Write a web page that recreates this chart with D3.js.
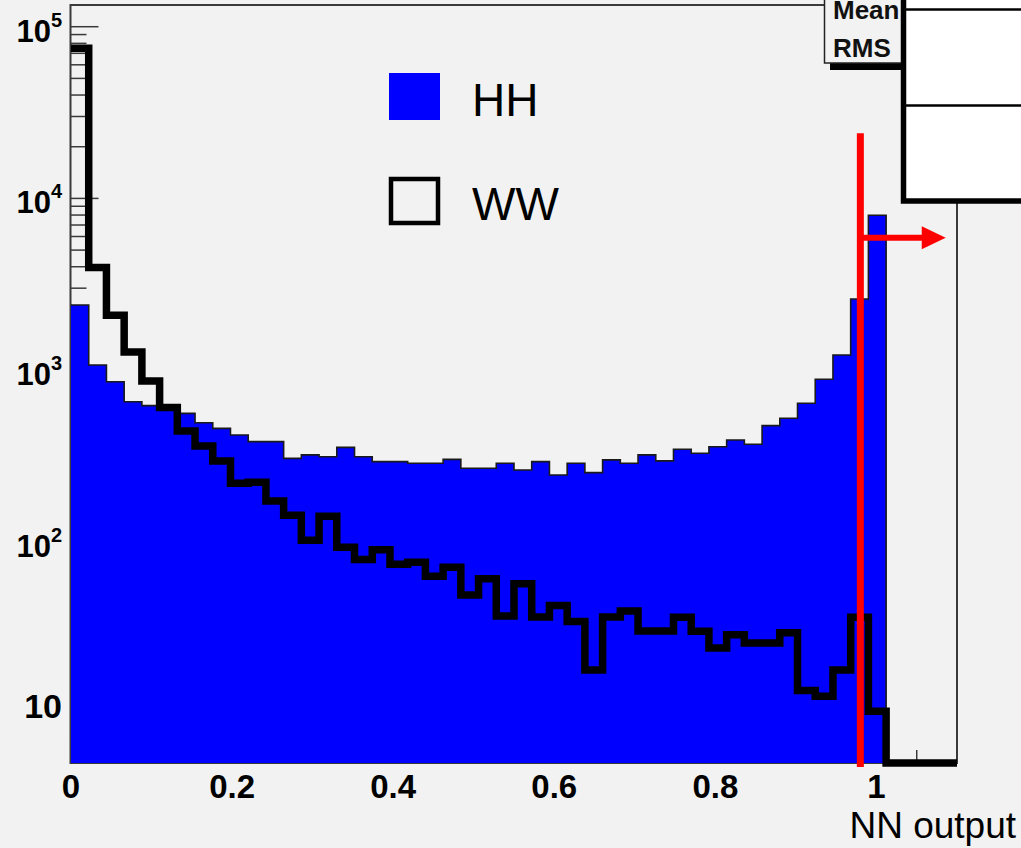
<!DOCTYPE html>
<html>
<head>
<meta charset="utf-8">
<script src="https://cdn.jsdelivr.net/npm/d3@7"></script>
<style>
  html, body { margin: 0; padding: 0; background: #f2f2f2; }
  svg { display: block; }
  text { font-family: "Liberation Sans", Arial, Helvetica, sans-serif; }
</style>
</head>
<body>
<svg id="chart" width="1021" height="848"></svg>
<script>
// ---- histogram binning: 50 bins over [0, 1.1] ----
const binWidth = 0.022;
const nBins = 50;

// HH signal counts per bin (filled)
const hhCounts = [
  2395, 1071, 855, 654, 621, 590, 560, 494, 458, 419,
  383, 383, 306, 321, 313, 355, 313, 293, 293, 287,
  287, 302, 268, 268, 287, 262, 293, 245, 287, 253,
  300, 287, 321, 296, 346, 328, 358, 392, 370, 475,
  524, 641, 884, 1224, 2595, 7980, 0, 0, 0, 0
];

// WW background counts per bin (outline)
const wwCounts = [
  75000, 3960, 2090, 1275, 865, 606, 442, 361, 296, 219,
  222, 173, 143, 102, 141, 93, 79, 90, 74, 76,
  63, 71, 49, 61, 37, 57, 36.5, 42.6, 34.4, 17.9,
  36.5, 39.6, 30.2, 30.2, 36.3, 30.1, 24.1, 28.8, 25.7, 25.7,
  29.5, 13.6, 12.6, 17.9, 36.4, 10.3, 0, 0, 0, 0
];

// axis ticks
const xTickValues = [0, 0.2, 0.4, 0.6, 0.8, 1];
const xTickLabels = ["0", "0.2", "0.4", "0.6", "0.8", "1"];
const yDecades = [1, 2, 3, 4, 5];          // 10^1 .. 10^5
const yRange = [5.149, 133800];
const xRange = [0, 1.1];

// selection cut
const cutValue = 0.98;
const cutTop = 24000;
const arrowLevel = 5900;
const arrowEnd = 1.086;

const legendItems = ["HH", "WW"];
const axisTitle = "NN output";
const statsLabels = ["Mean", "RMS"];

// ---- layout ----
const svg = d3.select("#chart");
const W = 1021, H = 848;
const frame = { left: 70.5, top: 5, right: 957, bottom: 763 };

const x = d3.scaleLinear().domain(xRange).range([71, frame.right]);
const y = d3.scaleLog().domain(yRange).range([frame.bottom, frame.top]);
const yc = v => y(Math.max(v, yRange[0]));

svg.append("rect").attr("width", W).attr("height", H).attr("fill", "#f2f2f2");

// frame
svg.append("rect")
  .attr("x", frame.left).attr("y", frame.top)
  .attr("width", frame.right - frame.left).attr("height", frame.bottom - frame.top)
  .attr("fill", "#f2f2f2").attr("stroke", "#3a3a3a").attr("stroke-width", 2);

// y ticks (major decades + minor 2..9)
const yTicks = [];
for (let d = 0; d <= 5; d++) {
  for (let m = 1; m <= 9; m++) {
    const v = m * Math.pow(10, d);
    if (v >= yRange[0] && v <= yRange[1]) yTicks.push({ v, major: m === 1 });
  }
}
svg.append("g").selectAll("line").data(yTicks).join("line")
  .attr("x1", frame.left).attr("x2", d => frame.left + (d.major ? 28 : 16))
  .attr("y1", d => y(d.v)).attr("y2", d => y(d.v))
  .attr("stroke", "#3a3a3a").attr("stroke-width", 1.5);

// x ticks every 0.05, longer every 0.2
const xTicks = d3.range(0, 22).map(i => i * 0.05);
svg.append("g").selectAll("line").data(xTicks).join("line")
  .attr("x1", d => x(d)).attr("x2", d => x(d))
  .attr("y1", frame.bottom)
  .attr("y2", (d, i) => frame.bottom - (i % 4 === 0 ? 26 : 13))
  .attr("stroke", "#3a3a3a").attr("stroke-width", 1.5);

// step-curve points
const stepPoints = counts => {
  const pts = counts.map((c, i) => [i * binWidth, c]);
  pts.push([counts.length * binWidth, counts[counts.length - 1]]);
  return pts;
};

// HH filled histogram
const hhPts = stepPoints(hhCounts);
svg.append("path")
  .datum(hhPts)
  .attr("d", d3.area().curve(d3.curveStepAfter)
    .x(d => x(d[0])).y0(frame.bottom).y1(d => yc(d[1])))
  .attr("fill", "#0000ff");
svg.append("path")
  .datum(hhPts)
  .attr("d", d3.line().curve(d3.curveStepAfter).x(d => x(d[0])).y(d => yc(d[1])))
  .attr("fill", "none").attr("stroke", "#1a1a1a").attr("stroke-width", 1.6);

// WW outline histogram
svg.append("path")
  .datum(stepPoints(wwCounts))
  .attr("d", d3.line().curve(d3.curveStepAfter).x(d => x(d[0])).y(d => yc(d[1])))
  .attr("fill", "none").attr("stroke", "#000").attr("stroke-width", 7.5)
  .attr("stroke-linejoin", "miter");

// cut line and arrow
svg.append("line")
  .attr("x1", x(cutValue)).attr("x2", x(cutValue))
  .attr("y1", y(cutTop)).attr("y2", frame.bottom + 4)
  .attr("stroke", "#ff0000").attr("stroke-width", 7);
const ay = y(arrowLevel), ax1 = x(arrowEnd);
svg.append("line")
  .attr("x1", x(cutValue)).attr("x2", ax1 - 22)
  .attr("y1", ay).attr("y2", ay)
  .attr("stroke", "#ff0000").attr("stroke-width", 6);
svg.append("path")
  .attr("d", `M${ax1 - 24},${ay - 11.5} L${ax1},${ay} L${ax1 - 24},${ay + 11.5} Z`)
  .attr("fill", "#ff0000");

// legend
const lg = svg.append("g");
lg.append("rect").attr("x", 389).attr("y", 73).attr("width", 51).attr("height", 47).attr("fill", "#0000ff");
lg.append("rect").attr("x", 391).attr("y", 179).attr("width", 47).attr("height", 44)
  .attr("fill", "none").attr("stroke", "#000").attr("stroke-width", 4.5);
lg.selectAll("text").data(legendItems).join("text")
  .attr("x", 472).attr("y", (d, i) => 116 + i * 104)
  .attr("font-size", 46).attr("fill", "#000").text(d => d);

// statistics box (partly outside the canvas)
svg.append("rect").attr("x", 830).attr("y", 63).attr("width", 75).attr("height", 7).attr("fill", "#000");
svg.append("rect").attr("x", 824.5).attr("y", -10).attr("width", 80).attr("height", 73)
  .attr("fill", "#f2f2f2").attr("stroke", "#222").attr("stroke-width", 1.5);
svg.append("g").selectAll("text").data(statsLabels).join("text")
  .attr("x", 833).attr("y", (d, i) => 19 + i * 38)
  .attr("font-size", 26).attr("font-weight", "bold").attr("fill", "#111").text(d => d);

svg.append("rect").attr("x", 903.5).attr("y", -10).attr("width", 200).attr("height", 211)
  .attr("fill", "#fff").attr("stroke", "#000").attr("stroke-width", 5.5);
[9.5, 105.5].forEach(ly => {
  svg.append("line").attr("x1", 906).attr("x2", W).attr("y1", ly).attr("y2", ly)
    .attr("stroke", "#000").attr("stroke-width", 2.5);
});

// x tick labels
svg.append("g").selectAll("text").data(xTickValues).join("text")
  .attr("x", d => x(d)).attr("y", 798)
  .attr("text-anchor", "middle").attr("font-size", 33).attr("font-weight", "bold")
  .attr("fill", "#000").text((d, i) => xTickLabels[i]);

// y tick labels
const yl = svg.append("g");
yDecades.forEach(p => {
  const t = yl.append("text")
    .attr("x", 62).attr("text-anchor", "end")
    .attr("font-weight", "bold").attr("fill", "#000");
  if (p === 1) {
    t.attr("y", y(10) + 4).attr("font-size", 34).text("10");
  } else {
    t.attr("y", y(Math.pow(10, p)) + 15).attr("font-size", 31);
    t.append("tspan").text("10");
    t.append("tspan").attr("font-size", 20).attr("dy", -15).text(String(p));
  }
});

// axis title
svg.append("text").attr("x", 1016).attr("y", 838).attr("text-anchor", "end")
  .attr("font-size", 37).attr("fill", "#000").text(axisTitle);
</script>
</body>
</html>
